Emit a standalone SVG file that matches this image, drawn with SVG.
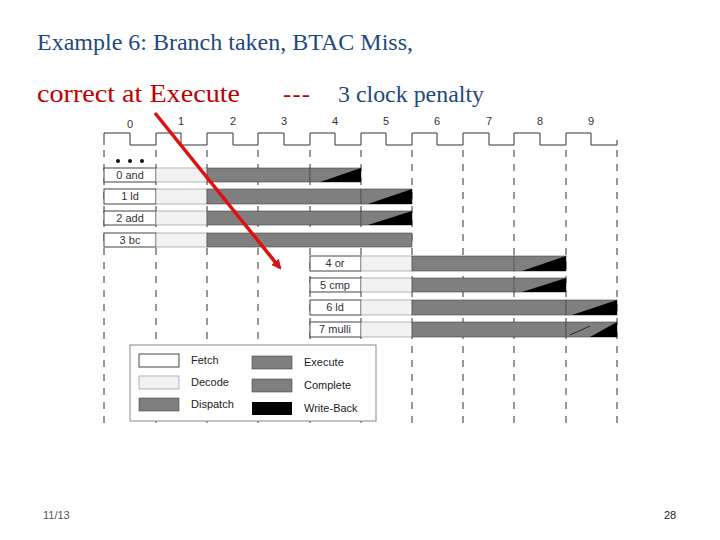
<svg xmlns="http://www.w3.org/2000/svg" width="720" height="540" viewBox="0 0 720 540">
<style>
.t{font-family:"Liberation Serif",serif;font-size:24px}
.s{font-family:"Liberation Sans",Arial,sans-serif;font-size:11px;fill:#222}
.n{font-family:"Liberation Sans",Arial,sans-serif;font-size:11px;fill:#333;text-anchor:middle}
.d{stroke:#333;stroke-width:1;stroke-dasharray:7,7}
.f{fill:#fff;stroke:#444;stroke-width:1}
.de{fill:#f2f2f2;stroke:#888;stroke-width:0.6}
.g{fill:#7f7f7f;stroke:#444;stroke-width:0.6}
.k{fill:#000}
</style>
<defs>
<marker id="ah" markerWidth="10" markerHeight="10" refX="8" refY="5" orient="auto" markerUnits="userSpaceOnUse"><path d="M0,0 L10,5 L0,10 z" fill="#e01010"/></marker>
</defs>
<rect width="720" height="540" fill="#fff"/>
<text class="t" x="37" y="50" fill="#1f497d">Example 6: Branch taken, BTAC Miss,</text>
<text class="t" x="37" y="102" fill="#c00000" style="font-size:26px" textLength="203" lengthAdjust="spacingAndGlyphs">correct at Execute</text>
<text class="t" x="283" y="102" fill="#c00000" textLength="27">---</text>
<text class="t" x="338" y="102" fill="#1f497d" style="font-size:23px" textLength="146" lengthAdjust="spacingAndGlyphs">3 clock penalty</text>
<g id="clock">
<text class="n" x="130" y="128">0</text><text class="n" x="181" y="125">1</text><text class="n" x="233" y="125">2</text><text class="n" x="284" y="125">3</text><text class="n" x="335" y="125">4</text><text class="n" x="386" y="125">5</text><text class="n" x="437" y="125">6</text><text class="n" x="489" y="125">7</text><text class="n" x="540" y="125">8</text><text class="n" x="591" y="125">9</text>
<path d="M104,145 V133 H130 V145 H156 V133 H181 V145 H207 V133 H233 V145 H258 V133 H284 V145 H310 V133 H335 V145 H361 V133 H386 V145 H412 V133 H437 V145 H463 V133 H489 V145 H514 V133 H540 V145 H566 V133 H591 V145 H617 V140" fill="none" stroke="#333" stroke-width="1"/>
<g class="d"><line x1="104" y1="150" x2="104" y2="428"/><line x1="156" y1="150" x2="156" y2="428"/><line x1="207" y1="150" x2="207" y2="428"/><line x1="258" y1="150" x2="258" y2="428"/><line x1="310" y1="150" x2="310" y2="428"/><line x1="361" y1="150" x2="361" y2="428"/><line x1="412" y1="150" x2="412" y2="428"/><line x1="463" y1="150" x2="463" y2="428"/><line x1="514" y1="150" x2="514" y2="428"/><line x1="566" y1="150" x2="566" y2="428"/><line x1="617" y1="150" x2="617" y2="428"/></g>
<circle cx="118" cy="161" r="2" fill="#111"/><circle cx="130" cy="161" r="2" fill="#111"/><circle cx="142" cy="161" r="2" fill="#111"/>
</g>
<g id="r0"><rect class="f" x="104" y="168" width="52" height="14"/><text class="n" x="130" y="179">0 and</text><rect class="de" x="156" y="168" width="51" height="14"/><rect class="g" x="207" y="168" width="103" height="14"/><rect class="g" x="310" y="168" width="51" height="14"/><polygon class="k" points="320,182 361,168 361,182"/></g>
<g id="r1"><rect class="f" x="104" y="189" width="52" height="15"/><text class="n" x="130" y="200">1 ld</text><rect class="de" x="156" y="189" width="51" height="15"/><rect class="g" x="207" y="189" width="154" height="15"/><rect class="g" x="361" y="189" width="51" height="15"/><polygon class="k" points="368,204 412,189 412,204"/></g>
<g id="r2"><rect class="f" x="104" y="211" width="52" height="14"/><text class="n" x="130" y="222">2 add</text><rect class="de" x="156" y="211" width="51" height="14"/><rect class="g" x="207" y="211" width="154" height="14"/><rect class="g" x="361" y="211" width="51" height="14"/><polygon class="k" points="368,225 412,211 412,225"/></g>
<g id="r3"><rect class="f" x="104" y="233" width="52" height="14"/><text class="n" x="130" y="244">3 bc</text><rect class="de" x="156" y="233" width="51" height="14"/><rect class="g" x="207" y="233" width="205" height="14"/></g>
<g id="r4"><rect class="f" x="310" y="256" width="51" height="15"/><text class="n" x="335" y="267">4 or</text><rect class="de" x="361" y="256" width="51" height="15"/><rect class="g" x="412" y="256" width="103" height="15"/><rect class="g" x="514" y="256" width="52" height="15"/><polygon class="k" points="522,271 566,256 566,271"/></g>
<g id="r5"><rect class="f" x="310" y="278" width="51" height="14"/><text class="n" x="335" y="289">5 cmp</text><rect class="de" x="361" y="278" width="51" height="14"/><rect class="g" x="412" y="278" width="103" height="14"/><rect class="g" x="514" y="278" width="52" height="14"/><polygon class="k" points="522,292 566,278 566,292"/></g>
<g id="r6"><rect class="f" x="310" y="300" width="51" height="15"/><text class="n" x="335" y="311">6 ld</text><rect class="de" x="361" y="300" width="51" height="15"/><rect class="g" x="412" y="300" width="154" height="15"/><rect class="g" x="566" y="300" width="51" height="15"/><polygon class="k" points="572,315 617,300 617,315"/></g>
<g id="r7"><rect class="f" x="310" y="322" width="51" height="15"/><text class="n" x="335" y="333">7 mulli</text><rect class="de" x="361" y="322" width="51" height="15"/><rect class="g" x="412" y="322" width="154" height="15"/><rect class="g" x="566" y="322" width="51" height="15"/><polygon class="k" points="590,337 617,322 617,337"/><line x1="570" y1="335" x2="590" y2="326" stroke="#111" stroke-width="0.8"/></g>
<g id="legend">
<rect x="130" y="345" width="246" height="76" fill="#fff" stroke="#888" stroke-width="1"/>
<rect class="f" x="139" y="354" width="40" height="13" stroke="#888"/><text class="s" x="191" y="364">Fetch</text>
<rect class="de" x="139" y="376" width="40" height="13" stroke="#444"/><text class="s" x="191" y="386">Decode</text>
<rect class="g" x="139" y="398" width="40" height="13"/><text class="s" x="191" y="408">Dispatch</text>
<rect class="g" x="252" y="356" width="40" height="13"/><text class="s" x="304" y="366">Execute</text>
<rect class="g" x="252" y="379" width="40" height="13"/><text class="s" x="304" y="389">Complete</text>
<rect class="k" x="252" y="402" width="40" height="13"/><text class="s" x="304" y="412">Write-Back</text>
</g>
<g id="connectors"><line x1="155" y1="113" x2="280" y2="268" stroke="#e01010" stroke-width="3.5" marker-end="url(#ah)"/></g>
<text x="43" y="519" style="font-family:'Liberation Sans',sans-serif;font-size:11px;fill:#555">11/13</text>
<text x="664" y="519" style="font-family:'Liberation Sans',sans-serif;font-size:11px;fill:#222">28</text>
</svg>
